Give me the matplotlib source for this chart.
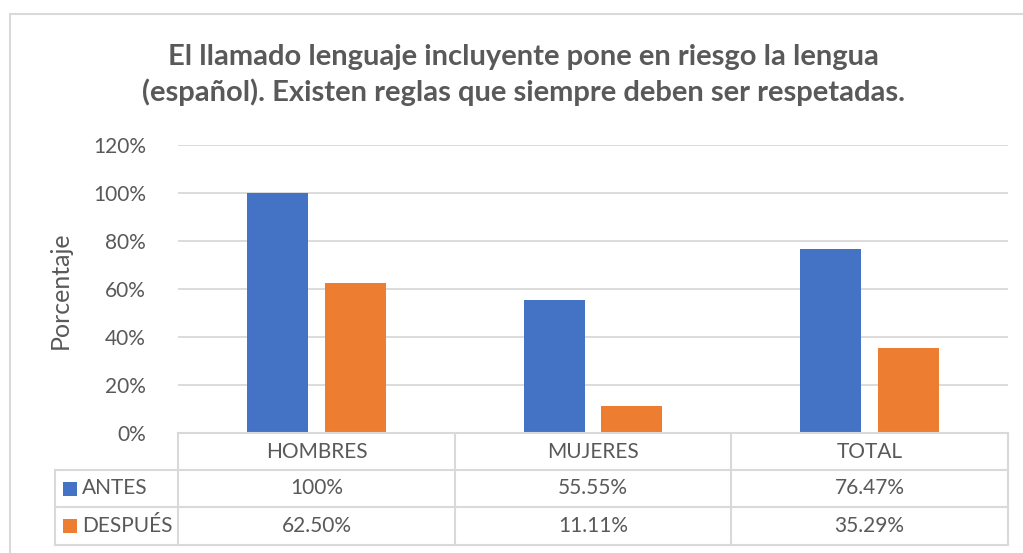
import matplotlib.pyplot as plt
from matplotlib.patches import Rectangle
from matplotlib.lines import Line2D

categories = ["HOMBRES", "MUJERES", "TOTAL"]
series_names = ["ANTES", "DESPUÉS"]
antes = [1.00, 0.5555, 0.7647]
despues = [0.6250, 0.1111, 0.3529]
antes_labels = ["100%", "55.55%", "76.47%"]
despues_labels = ["62.50%", "11.11%", "35.29%"]
yticks = [0, 0.2, 0.4, 0.6, 0.8, 1.0, 1.2]
ytick_labels = ["0%", "20%", "40%", "60%", "80%", "100%", "120%"]

title = "El llamado lenguaje incluyente pone en riesgo la lengua\n(español). Existen reglas que siempre deben ser respetadas."

BLUE = "#4472C4"
ORANGE = "#ED7D31"
GRID = "#D9D9D9"
TXT = "#595959"
FONT = "Lato"
FS = 15

W, H = 1023, 553
fig = plt.figure(figsize=(W / 100, H / 100), dpi=100)
plt.rcParams['font.family'] = [FONT, 'DejaVu Sans']

def fx(px):
    return px / W

def fy(py):
    return 1 - py / H

# chart border
fig.patches.append(Rectangle((fx(10), fy(560)), fx(1030) - fx(10), fy(14) - fy(560),
                             transform=fig.transFigure, fill=False, edgecolor=GRID, lw=1.5))

x0, x1 = 178, 1008
yb, yt = 433, 145
ax = fig.add_axes([fx(x0), fy(yb), fx(x1) - fx(x0), fy(yt) - fy(yb)])
ax.set_xlim(-0.5, 2.5)
ax.set_ylim(0, 1.2)
for s in ax.spines.values():
    s.set_visible(False)
ax.set_yticks(yticks)
ax.set_yticklabels(ytick_labels, fontsize=FS, color=TXT, family=FONT)
ax.tick_params(axis='y', length=0, pad=23)
ax.set_xticks([])
ax.grid(axis='y', color=GRID, lw=1.3)
ax.set_axisbelow(True)

xs = range(len(categories))
bw = 0.22
off = 0.14
ax.bar([x - off for x in xs], antes, width=bw, color=BLUE, zorder=3)
ax.bar([x + off for x in xs], despues, width=bw, color=ORANGE, zorder=3)

fig.text(fx(60), fy(290), "Porcentaje", rotation=90, ha='center', va='center',
         fontsize=18, color=TXT, family=FONT)

fig.text(fx(523), fy(75), title, ha='center', va='center',
         fontsize=21, fontweight='bold', color=TXT, family=FONT, linespacing=1.38)

# data table
col_edges = [x0, 455, 731, x1]
row_edges = [433, 470, 507, 545]
legend_left = 55

def hline(py, xa, xb):
    fig.add_artist(Line2D([fx(xa), fx(xb)], [fy(py), fy(py)], transform=fig.transFigure,
                          color=GRID, lw=1.5))

def vline(px, ya, yb_):
    fig.add_artist(Line2D([fx(px), fx(px)], [fy(ya), fy(yb_)], transform=fig.transFigure,
                          color=GRID, lw=1.5))

hline(row_edges[0], x0, x1)
for r in row_edges[1:]:
    hline(r, legend_left, x1)
for c in col_edges:
    vline(c, row_edges[0], row_edges[-1])
vline(legend_left, row_edges[1], row_edges[-1])

for i, cat in enumerate(categories):
    cx = 0.5 * (col_edges[i] + col_edges[i + 1])
    fig.text(fx(cx), fy(0.5 * (row_edges[0] + row_edges[1])), cat, ha='center', va='center',
             fontsize=FS, color=TXT, family=FONT)
    fig.text(fx(cx), fy(0.5 * (row_edges[1] + row_edges[2])), antes_labels[i], ha='center',
             va='center', fontsize=FS, color=TXT, family=FONT)
    fig.text(fx(cx), fy(0.5 * (row_edges[2] + row_edges[3])), despues_labels[i], ha='center',
             va='center', fontsize=FS, color=TXT, family=FONT)

for j, (name, col) in enumerate(zip(series_names, [BLUE, ORANGE])):
    cy = 0.5 * (row_edges[j + 1] + row_edges[j + 2])
    fig.patches.append(Rectangle((fx(63), fy(cy + 7)), fx(14), fy(0) - fy(14),
                                 transform=fig.transFigure, facecolor=col, edgecolor='none'))
    fig.text(fx(82), fy(cy), name, ha='left', va='center', fontsize=FS, color=TXT, family=FONT)

fig.savefig("out.png", dpi=100, facecolor='white')
